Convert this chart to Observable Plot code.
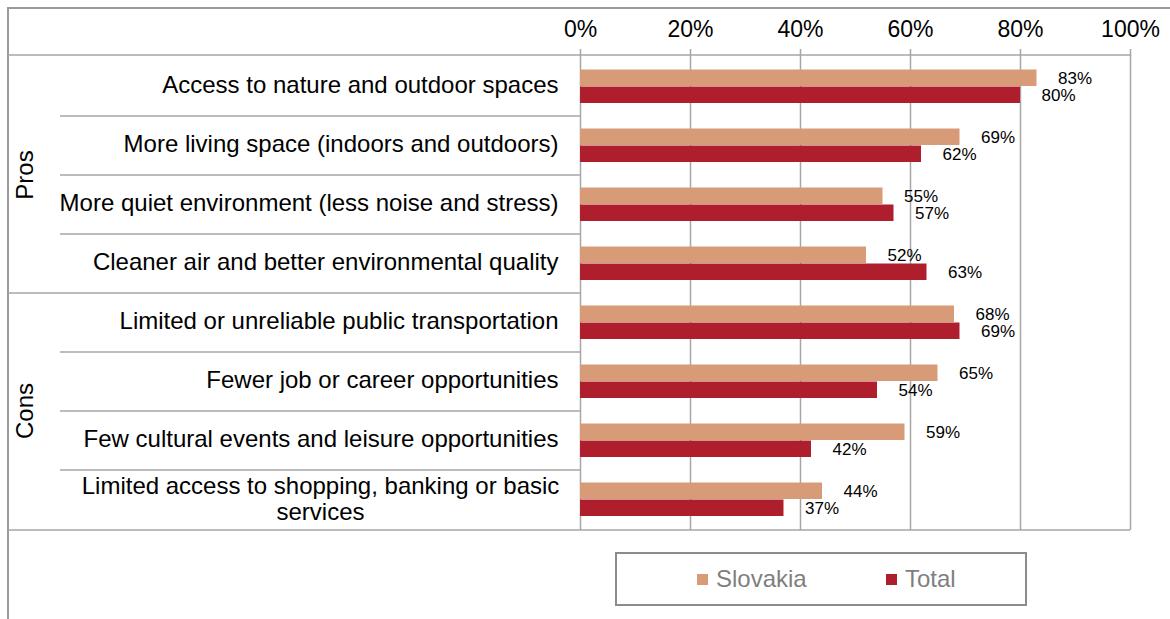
<!DOCTYPE html>
<html>
<head>
<meta charset="utf-8">
<script src="https://cdn.jsdelivr.net/npm/d3@7"></script>
<script src="https://cdn.jsdelivr.net/npm/@observablehq/plot@0.6"></script>
<style>
  body { margin: 0; background: #fff; font-family: "Liberation Sans", Arial, sans-serif; }
  #chart svg { display: block; }
  #below { position: relative; height: 79px; margin-left: 7px; border-left: 2px solid #9a9a9a; box-sizing: border-box; width: 1163px; }
  #legend { position: absolute; left: 606px; top: 12px; width: 412px; height: 54px; border: 2px solid #8c8c8c; box-sizing: border-box; }
  .item { position: absolute; top: 0; height: 50px; display: flex; align-items: center; font-size: 24px; color: #7f7f7f; }
  .sw { width: 11px; height: 11px; margin-right: 8px; }
</style>
</head>
<body>
<div id="chart"></div>
<div id="below"><div id="legend"></div></div>
<script>
const categories = [
  "Access to nature and outdoor spaces",
  "More living space (indoors and outdoors)",
  "More quiet environment (less noise and stress)",
  "Cleaner air and better environmental quality",
  "Limited or unreliable public transportation",
  "Fewer job or career opportunities",
  "Few cultural events and leisure opportunities",
  "Limited access to shopping, banking or basic\nservices"
];
const groups = ["Pros", "Cons"];
const groupOf = ["Pros","Pros","Pros","Pros","Cons","Cons","Cons","Cons"];
const seriesNames = ["Slovakia", "Total"];
const slovakia = [83, 69, 55, 52, 68, 65, 59, 44];
const total = [80, 62, 57, 63, 69, 54, 42, 37];
const xTicks = [0, 20, 40, 60, 80, 100];
const colors = ["#D89B78", "#AF1E2D"];

const rows = categories.map((c, i) => ({category: c, group: groupOf[i], slovakia: slovakia[i], total: total[i]}));
const grid = "#a6a6a6";

const chart = Plot.plot({
  width: 1170,
  height: 540,
  marginTop: 55,
  marginBottom: 10,
  marginLeft: 580,
  marginRight: 40,
  style: {fontFamily: '"Liberation Sans", Arial, sans-serif', fontSize: "16px", color: "#000", background: "transparent"},
  x: {domain: [0, 100]},
  y: {domain: categories, padding: 0, axis: null},
  marks: [
    Plot.ruleX(xTicks, {stroke: grid, strokeWidth: 1.5}),
    Plot.axisX({anchor: "top", ticks: xTicks, tickFormat: d => d + "%", tickSize: 7, tickPadding: 12,
      fontSize: 23, stroke: grid, strokeWidth: 1.5, fill: "#000", label: null}),
    Plot.barX(rows, {x: "slovakia", y: "category", fill: colors[0], insetTop: 12.5, insetBottom: 30}),
    Plot.barX(rows, {x: "total", y: "category", fill: colors[1], insetTop: 29.5, insetBottom: 13}),
    Plot.text(rows, {x: "slovakia", y: "category", text: d => d.slovakia + "%", dx: 21, dy: -8.5,
      textAnchor: "start", fontSize: 17, fill: "#000"}),
    Plot.text(rows, {x: "total", y: "category", text: d => d.total + "%", dx: 21, dy: 8.5,
      textAnchor: "start", fontSize: 17, fill: "#000"}),
    Plot.text(rows.filter(d => !d.category.includes("\n")), {y: "category", text: "category", frameAnchor: "left",
      dx: -22, dy: -2, textAnchor: "end", fontSize: 24, fill: "#000"}),
    Plot.text(rows.filter(d => d.category.includes("\n")), {y: "category", text: "category", frameAnchor: "left",
      dx: -260, dy: -1, textAnchor: "middle", fontSize: 24, fill: "#000", lineHeight: 1.05})
  ]
});

// table-like frame decoration, positioned through the chart's own scales
const sx = chart.scale("x"), sy = chart.scale("y");
const x0 = sx.apply(0), x100 = sx.apply(100);
const yTop = sy.range[0], yBottom = sy.range[1];
const deco = d3.select(chart).append("g").attr("fill", "none");
const line = (x1, y1, x2, y2, c, w) => deco.append("line").attr("x1", x1).attr("y1", y1).attr("x2", x2).attr("y2", y2)
  .attr("stroke", c).attr("stroke-width", w);
line(8, 8, 1170, 8, "#9a9a9a", 2);
line(8, 7, 8, 540, "#9a9a9a", 2);
line(8, yTop, x100, yTop, grid, 1.5);
line(8, yBottom, x100, yBottom, grid, 1.5);
categories.forEach((c, i) => {
  if (i === 0) return;
  const yy = sy.apply(c);
  if (groupOf[i] !== groupOf[i - 1]) line(8, yy, x0, yy, grid, 1.5);
  else line(60, yy, x0, yy, grid, 1.5);
});
groups.forEach(gr => {
  const idx = groupOf.map((d, i) => d === gr ? i : -1).filter(i => i >= 0);
  const y1 = sy.apply(categories[idx[0]]);
  const y2 = sy.apply(categories[idx[idx.length - 1]]) + sy.bandwidth;
  deco.append("text").attr("transform", `translate(24,${(y1 + y2) / 2}) rotate(-90)`)
    .attr("text-anchor", "middle").attr("dominant-baseline", "central")
    .attr("fill", "#000").attr("font-size", 24).text(gr);
});

document.getElementById("chart").appendChild(chart);

// legend
const legendEl = document.getElementById("legend");
const lefts = [80, 269];
seriesNames.forEach((s, i) => {
  const it = document.createElement("div");
  it.className = "item";
  it.style.left = lefts[i] + "px";
  it.innerHTML = `<span class="sw" style="background:${colors[i]}"></span><span>${s}</span>`;
  legendEl.appendChild(it);
});
</script>
</body>
</html>
